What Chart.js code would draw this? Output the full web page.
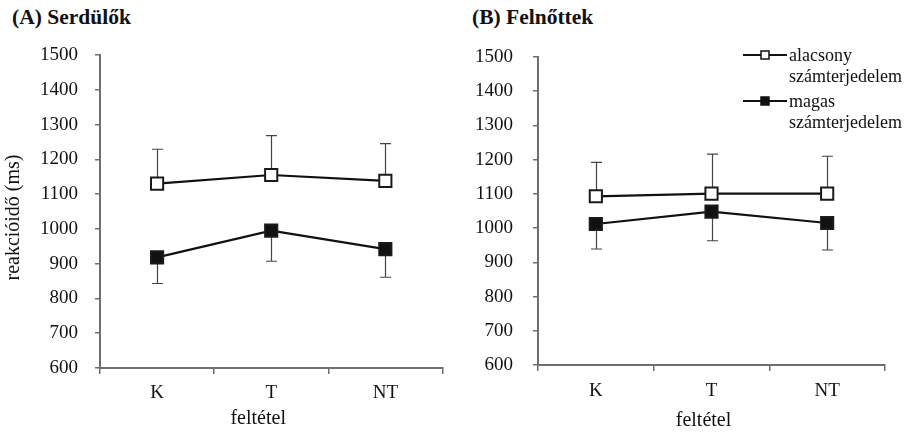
<!DOCTYPE html>
<html>
<head>
<meta charset="utf-8">
<script src="https://cdn.jsdelivr.net/npm/chart.js@4"></script>
<style>
  html, body { margin: 0; padding: 0; background: #fff; }
  #wrap { position: relative; width: 907px; height: 436px; overflow: hidden; }
  canvas { position: absolute; top: 0; }
  .ttl { position: absolute; font: bold 21.5px "Liberation Serif", serif; color: #111; white-space: nowrap; line-height: 26px; }
</style>
</head>
<body>
<div id="wrap">
  <div class="ttl" style="left:12px; top:4px">(A) Serdülők</div>
  <div class="ttl" style="left:472px; top:4px">(B) Felnőttek</div>
  <canvas id="cA" width="453" height="436" style="left:0"></canvas>
  <canvas id="cB" width="454" height="436" style="left:453px"></canvas>
</div>
<script>
// Conditions on the x axis
const conditions = ['K', 'T', 'NT'];
// Series labels (key)
const lowLabel = ['alacsony', 'számterjedelem'];
const highLabel = ['magas', 'számterjedelem'];
// Axis captions
const xCaption = 'feltétel';
const yCaption = 'reakcióidő (ms)';
// Y axis range (ms)
const yMin = 600;
const yMax = 1500;
const yStep = 100;

// (A) adolescents: mean reaction times and error bar lengths
const teenLow = [1130, 1155, 1138];
const teenLowErr = [99, 113, 107];
const teenHigh = [918, 995, 942];
const teenHighErr = [75, 88, 81];

// (B) adults
const adultLow = [1093, 1101, 1101];
const adultLowErr = [99, 115, 109];
const adultHigh = [1012, 1048, 1015];
const adultHighErr = [73, 85, 79];

const FONT = '"Liberation Serif", "Times New Roman", serif';
const AXIS = '#6e6e6e';
const INK = '#111';

// One-sided error bars: up for the low-span series, down for the high-span series
const errorBars = {
  id: 'errorBars',
  beforeDatasetsDraw(chart) {
    const ctx = chart.ctx;
    const y = chart.scales.y;
    chart.data.datasets.forEach((ds, i) => {
      const meta = chart.getDatasetMeta(i);
      ctx.save();
      ctx.strokeStyle = '#444';
      ctx.lineWidth = 1.2;
      meta.data.forEach((pt, j) => {
        const v = ds.data[j];
        const e = ds.errors[j];
        const end = y.getPixelForValue(ds.errorDir > 0 ? v + e : v - e);
        const x = Math.round(pt.x) + 0.5;
        ctx.beginPath();
        ctx.moveTo(x, pt.y);
        ctx.lineTo(x, end);
        ctx.moveTo(x - 5.5, end);
        ctx.lineTo(x + 5.5, end);
        ctx.stroke();
      });
      ctx.restore();
    });
  }
};

// Axis captions placed relative to the chart area
const axisCaptions = {
  id: 'axisCaptions',
  afterDraw(chart, args, opts) {
    const ctx = chart.ctx;
    const a = chart.chartArea;
    ctx.save();
    ctx.fillStyle = INK;
    ctx.textAlign = 'center';
    ctx.textBaseline = 'middle';
    ctx.font = '20px ' + FONT;
    ctx.fillText(xCaption, (a.left + a.right) / 2 + opts.dx, opts.xy);
    if (opts.showY) {
      ctx.translate(opts.yx, (a.top + a.bottom) / 2 + opts.dy);
      ctx.rotate(-Math.PI / 2);
      ctx.font = '20px ' + FONT;
      ctx.fillText(yCaption, 0, 0);
    }
    ctx.restore();
  }
};

// Series key drawn in the upper right of panel B
const seriesKey = {
  id: 'seriesKey',
  afterDraw(chart, args, opts) {
    if (!opts.show) return;
    const ctx = chart.ctx;
    const items = chart.data.datasets;
    ctx.save();
    items.forEach((ds, i) => {
      const cy = opts.y + i * opts.gap;
      ctx.strokeStyle = INK;
      ctx.lineWidth = 2;
      ctx.beginPath();
      ctx.moveTo(opts.x, cy);
      ctx.lineTo(opts.x + 44, cy);
      ctx.stroke();
      ctx.fillStyle = ds.pointBackgroundColor;
      ctx.lineWidth = 1.5;
      ctx.fillRect(opts.x + 18, cy - 4, 8, 8);
      ctx.strokeRect(opts.x + 18, cy - 4, 8, 8);
      ctx.fillStyle = INK;
      ctx.font = '18px ' + FONT;
      ctx.textBaseline = 'middle';
      ctx.textAlign = 'left';
      ds.keyLines.forEach((t, k) => ctx.fillText(t, opts.x + 46, cy + 1 + k * 21));
    });
    ctx.restore();
  }
};

function series(values, errors, dir, fill, keyLines) {
  return {
    data: values,
    errors: errors,
    errorDir: dir,
    keyLines: keyLines,
    borderColor: INK,
    borderWidth: 2.2,
    pointStyle: 'rect',
    pointRadius: 8.6,
    pointHoverRadius: 8.6,
    pointBackgroundColor: fill,
    pointBorderColor: '#1a1a1a',
    pointBorderWidth: 2,
    tension: 0
  };
}

function makePanel(id, low, lowErr, high, highErr, g) {
  return new Chart(document.getElementById(id), {
    type: 'line',
    data: {
      labels: conditions,
      datasets: [
        series(low, lowErr, 1, '#ffffff', lowLabel),
        series(high, highErr, -1, '#111111', highLabel)
      ]
    },
    options: {
      responsive: false,
      animation: false,
      devicePixelRatio: 1,
      layout: { padding: { left: 0, right: g.right, top: g.top, bottom: 0 } },
      plugins: {
        legend: { display: false },
        tooltip: { enabled: false },
        seriesKey: g.key,
        axisCaptions: g.captions
      },
      scales: {
        x: {
          type: 'category',
          offset: true,
          grid: { offset: true, drawOnChartArea: false, drawTicks: true, tickLength: 6, color: AXIS, lineWidth: 1.5 },
          border: { color: AXIS, width: 2 },
          ticks: { color: INK, font: { family: FONT, size: 19 }, padding: g.xPad },
          afterFit(s) { s.height = g.xHeight; }
        },
        y: {
          min: yMin,
          max: yMax,
          ticks: {
            stepSize: yStep, color: INK, font: { family: FONT, size: 19 }, padding: g.yPad,
            callback: (v) => String(v)
          },
          grid: { drawOnChartArea: false, drawTicks: true, tickLength: 5, color: AXIS, lineWidth: 1.5 },
          border: { color: AXIS, width: 2 },
          afterFit(s) { s.width = g.yWidth; }
        }
      }
    },
    plugins: [errorBars, seriesKey, axisCaptions]
  });
}

makePanel('cA', teenLow, teenLowErr, teenHigh, teenHighErr, {
  right: 10, top: 55, xHeight: 68, yWidth: 100, xPad: 8, yPad: 17,
  key: { show: false },
  captions: { dx: -13, xy: 419, showY: true, yx: 14, dy: 6 }
});

makePanel('cB', adultLow, adultLowErr, adultHigh, adultHighErr, {
  right: 22, top: 57, xHeight: 71, yWidth: 85, xPad: 9, yPad: 20,
  key: { show: true, x: 290, y: 55, gap: 46 },
  captions: { dx: -8, xy: 421, showY: false }
});
</script>
</body>
</html>
